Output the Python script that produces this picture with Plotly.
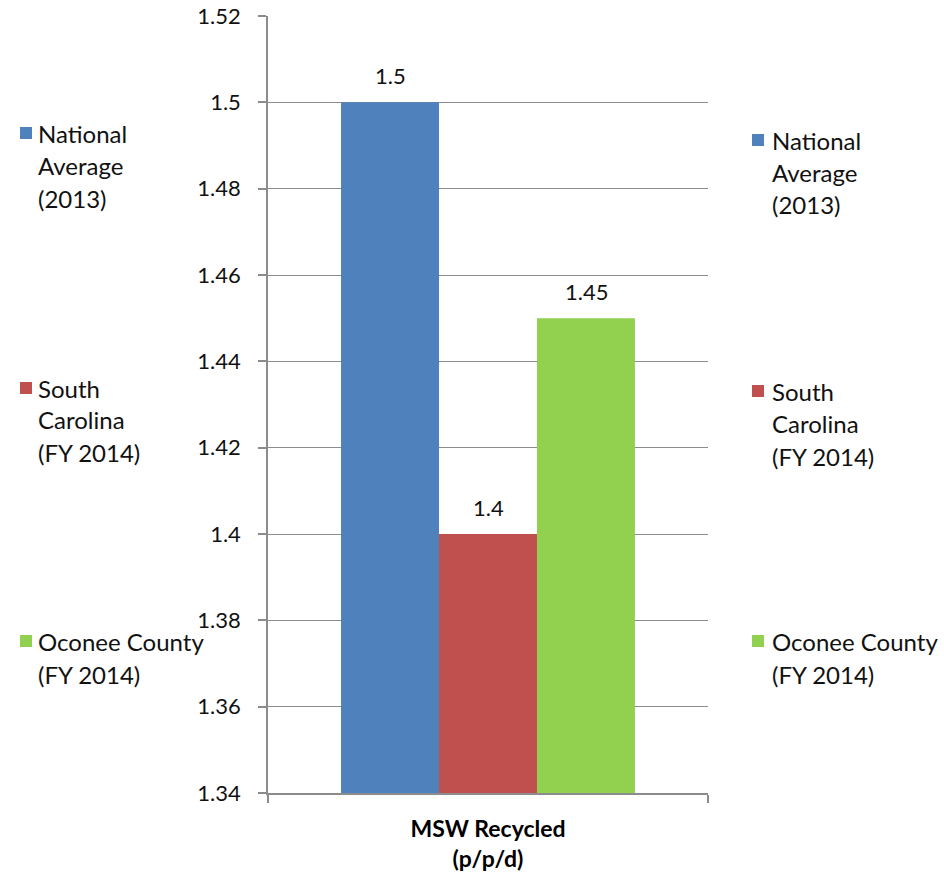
import plotly.graph_objects as go

# Data
category = "MSW Recycled<br>(p/p/d)"
series_names = ["National Average (2013)", "South Carolina (FY 2014)", "Oconee County (FY 2014)"]
series_values = [1.5, 1.4, 1.45]
series_colors = ["#4F81BD", "#C0504D", "#92D050"]
# Legend text as wrapped lines
legend_lines = [["National", "Average", "(2013)"], ["South", "Carolina", "(FY 2014)"], ["Oconee County", "(FY 2014)"]]

W, H = 944, 876
PL, PR, PT, PB = 268, 708, 16, 793  # plot-area pixel box
FONT = "Lato"
BAR_PX = 98  # bar width in pixels, used to place value labels over each bar


def px_x(x):
    return (x - PL) / (PR - PL)


def px_y(y):
    return (PB - y) / (PB - PT)


fig = go.Figure()
for name, val, col in zip(series_names, series_values, series_colors):
    fig.add_trace(go.Bar(
        x=[category], y=[val], name=name, marker_color=col, marker_line_width=0,
        showlegend=False,
    ))

annotations = []
shapes = []

# Value labels above each bar
n = len(series_values)
for i, val in enumerate(series_values):
    annotations.append(dict(
        x=category, y=val, xref="x", yref="y", text=f"{val:g}", showarrow=False,
        xshift=(i - (n - 1) / 2) * BAR_PX, yshift=27, yanchor="middle",
        font=dict(family=FONT, size=22, color="#111111"),
    ))


# Two identical legends drawn at fixed positions (left and right)
def add_legend(text_x, box_x, line_ys):
    for lines, ys, col in zip(legend_lines, line_ys, series_colors):
        for line, y in zip(lines, ys):
            annotations.append(dict(
                x=px_x(text_x), y=px_y(y), xref="paper", yref="paper",
                xanchor="left", yanchor="middle", text=line, showarrow=False,
                font=dict(family=FONT, size=24, color="#111111"),
            ))
        shapes.append(dict(
            type="rect", xref="paper", yref="paper",
            x0=px_x(box_x), x1=px_x(box_x + 12),
            y0=px_y(ys[0] - 6), y1=px_y(ys[0] + 6),
            fillcolor=col, line_width=0,
        ))


add_legend(36, 20, [[133, 166, 198], [388, 420, 452], [641, 674]])
add_legend(770, 752, [[140, 172, 205], [391, 423, 456], [641, 674]])

fig.update_layout(
    width=W, height=H,
    margin=dict(l=PL, r=W - PR, t=PT, b=H - PB, pad=0, autoexpand=False),
    paper_bgcolor="white", plot_bgcolor="white",
    barmode="group", bargap=0.332, bargroupgap=0,
    showlegend=False,
    annotations=annotations, shapes=shapes,
    font=dict(family=FONT, color="#111111"),
)
fig.update_yaxes(
    range=[1.34, 1.52], dtick=0.02, tick0=1.34, tickformat=".2~f",
    showgrid=True, gridcolor="#8c8c8c", gridwidth=1.3,
    showline=True, linecolor="#8c8c8c", linewidth=1.5,
    ticks="outside", ticklen=8, tickcolor="#8c8c8c", tickwidth=1.5,
    ticklabelstandoff=13, zeroline=False, automargin=False,
    tickfont=dict(family=FONT, size=22, color="#111111"),
)
fig.update_xaxes(
    showline=True, linecolor="#8c8c8c", linewidth=1.5,
    ticks="outside", ticklen=8, tickcolor="#8c8c8c", tickwidth=1.5,
    tickson="boundaries", ticklabelstandoff=15, automargin=False,
    tickfont=dict(family=FONT, size=23, color="#000000", weight="bold"),
)

fig.write_html("out.html")
